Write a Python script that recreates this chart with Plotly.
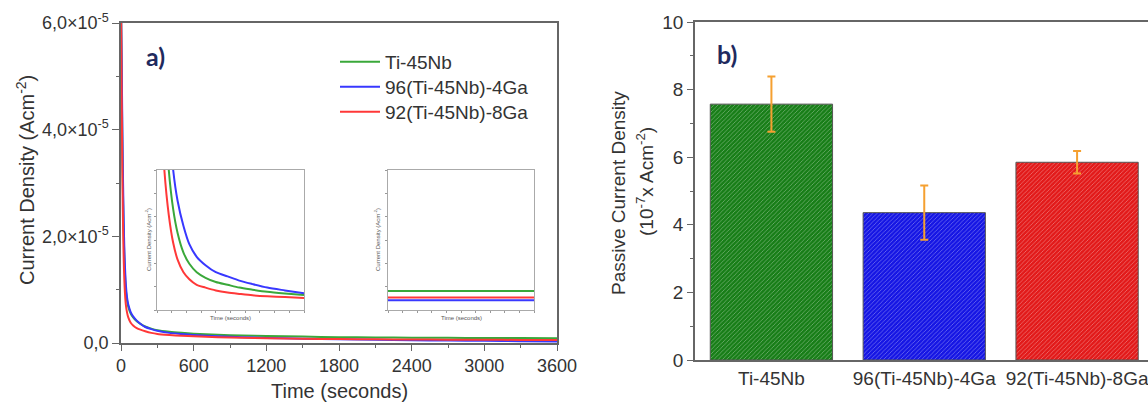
import plotly.graph_objects as go

W, H = 1148, 403

def px(x):
    return x / W

def py(y):
    return 1 - y / H

# ---------------- data: panel a) (current density in units of 1e-5 A cm^-2)
series_names = ["Ti-45Nb", "96(Ti-45Nb)-4Ga", "92(Ti-45Nb)-8Ga"]
line_colors = ["#3aa83a", "#3838ff", "#ff3838"]

time_s = [0, 5, 10, 15, 20, 25, 30, 40, 50, 60, 80, 100, 130, 160, 200, 250, 300,
          400, 500, 600, 800, 1000, 1200, 1500, 1800, 2100, 2400, 2700, 3000, 3300, 3600]
green_cd = [6.4, 5.2, 4.0, 3.0, 2.3, 1.8, 1.45, 1.0, 0.80, 0.68, 0.55, 0.48, 0.41, 0.36, 0.31, 0.27, 0.24,
            0.21, 0.19, 0.175, 0.155, 0.14, 0.13, 0.12, 0.11, 0.105, 0.10, 0.097, 0.094, 0.092, 0.09]
blue_cd = [6.4, 5.4, 4.3, 3.3, 2.6, 2.0, 1.6, 1.1, 0.85, 0.72, 0.58, 0.50, 0.42, 0.36, 0.30, 0.26, 0.23,
           0.19, 0.17, 0.15, 0.125, 0.11, 0.095, 0.08, 0.07, 0.06, 0.052, 0.045, 0.04, 0.035, 0.03]
red_cd = [6.4, 4.8, 3.5, 2.5, 1.8, 1.35, 1.05, 0.72, 0.57, 0.48, 0.38, 0.33, 0.28, 0.25, 0.22, 0.19, 0.17,
          0.15, 0.135, 0.125, 0.11, 0.10, 0.09, 0.08, 0.075, 0.07, 0.065, 0.062, 0.06, 0.058, 0.055]

y_tick_vals = [0, 2, 4, 6]
y_tick_text = ["0,0", "2,0×10<sup>-5</sup>", "4,0×10<sup>-5</sup>", "6,0×10<sup>-5</sup>"]
x_tick_vals = [0, 600, 1200, 1800, 2400, 3000, 3600]

# inset 1 (zoom of early decay, arbitrary units)
inset1_x = [0.02, 0.05, 0.08, 0.11, 0.14, 0.18, 0.22, 0.27, 0.33, 0.40, 0.48, 0.56, 0.65, 0.75, 0.87, 1.0]
inset1_green = [2.2, 1.5, 1.0, 0.72, 0.55, 0.41, 0.33, 0.27, 0.23, 0.20, 0.18, 0.16, 0.145, 0.13, 0.118, 0.107]
inset1_blue = [3.0, 2.0, 1.4, 1.0, 0.78, 0.60, 0.47, 0.38, 0.32, 0.27, 0.24, 0.21, 0.185, 0.16, 0.14, 0.12]
inset1_red = [1.6, 1.0, 0.68, 0.48, 0.36, 0.27, 0.22, 0.18, 0.16, 0.14, 0.125, 0.115, 0.105, 0.098, 0.092, 0.086]

# inset 2 (steady state, arbitrary units)
inset2_x = [0.0, 1.0]
inset2_green = [0.135, 0.135]
inset2_blue = [0.07, 0.07]
inset2_red = [0.09, 0.09]

# ---------------- data: panel b)
categories = ["Ti-45Nb", "96(Ti-45Nb)-4Ga", "92(Ti-45Nb)-8Ga"]
passive_cd = [7.57, 4.36, 5.85]
passive_err = [0.82, 0.80, 0.33]
bar_colors = ["#187e18", "#1616e4", "#e21a1a"]
bar_pattern_colors = ["#106c10", "#1010c4", "#c41212"]

fig = go.Figure()

legend_ids = ["legend", "legend2", "legend3"]
main_series = [green_cd, blue_cd, red_cd]
for name, col, ys, lg in zip(series_names, line_colors, main_series, legend_ids):
    fig.add_trace(go.Scatter(x=time_s, y=ys, mode="lines", name=name, legend=lg,
                             line=dict(color=col, width=2, shape="spline", smoothing=0.6),
                             xaxis="x", yaxis="y"))

for col, ys in zip(line_colors, [inset1_green, inset1_blue, inset1_red]):
    fig.add_trace(go.Scatter(x=inset1_x, y=ys, mode="lines", showlegend=False,
                             line=dict(color=col, width=2, shape="spline", smoothing=0.8),
                             xaxis="x2", yaxis="y2", hoverinfo="skip"))

for col, ys in zip(line_colors, [inset2_green, inset2_blue, inset2_red]):
    fig.add_trace(go.Scatter(x=inset2_x, y=ys, mode="lines", showlegend=False,
                             line=dict(color=col, width=2),
                             xaxis="x3", yaxis="y3", hoverinfo="skip"))

fig.add_trace(go.Bar(x=categories, y=passive_cd, width=0.8, showlegend=False,
                     marker=dict(color=bar_colors, line=dict(color="#555555", width=1),
                                 pattern=dict(shape="/", size=3, solidity=0.2,
                                              fgcolor=bar_pattern_colors)),
                     error_y=dict(type="data", array=passive_err, visible=True,
                                  color="#f5a030", thickness=2, width=4),
                     xaxis="x4", yaxis="y4"))

FAM = "Liberation Sans, Arial, sans-serif"
tick_font_a = dict(family=FAM, size=18, color="#333333")
tick_font_b = dict(family=FAM, size=19, color="#333333")
frame_col = "#666666"

legend_common = dict(x=px(335), xanchor="left", yanchor="middle",
                     bgcolor="rgba(0,0,0,0)", font=dict(family=FAM, size=19, color="#333333"),
                     itemwidth=40)

fig.update_layout(
    width=W, height=H,
    margin=dict(l=0, r=0, t=0, b=0, pad=0, autoexpand=False),
    paper_bgcolor="white", plot_bgcolor="white",
    font=dict(family=FAM, size=15, color="#333333"),
    showlegend=True,
    legend=dict(y=py(62), **legend_common),
    legend2=dict(y=py(87), **legend_common),
    legend3=dict(y=py(112), **legend_common),
    xaxis=dict(domain=[px(121), px(557)], range=[0, 3600], tickmode="array",
               tickvals=x_tick_vals, ticks="outside", ticklen=6, tickcolor=frame_col,
               showline=True, linecolor=frame_col, linewidth=1.5, mirror=True,
               showgrid=False, zeroline=False, anchor="y", tickfont=tick_font_a,
               minor=dict(dtick=300, ticks="outside", ticklen=3, tickcolor=frame_col)),
    yaxis=dict(domain=[py(343), py(23)], range=[0, 6], tickmode="array",
               tickvals=y_tick_vals, ticktext=y_tick_text, ticks="outside", ticklen=7,
               tickcolor=frame_col, showline=True, linecolor=frame_col, linewidth=1.5,
               mirror=True, showgrid=False, zeroline=False, anchor="x", tickfont=tick_font_a,
               minor=dict(dtick=1, ticks="outside", ticklen=3, tickcolor=frame_col)),
    xaxis2=dict(domain=[px(157), px(304)], range=[0, 1], showticklabels=False,
                ticks="outside", ticklen=2, tickcolor="#999", dtick=0.1,
                showline=True, linecolor="#aaaaaa", linewidth=1, mirror=True,
                showgrid=False, zeroline=False, anchor="y2"),
    yaxis2=dict(domain=[py(310), py(170)], range=[0, 1], showticklabels=False,
                ticks="outside", ticklen=2, tickcolor="#999", dtick=1/6,
                showline=True, linecolor="#aaaaaa", linewidth=1, mirror=True,
                showgrid=False, zeroline=False, anchor="x2"),
    xaxis3=dict(domain=[px(388), px(534)], range=[0, 1], showticklabels=False,
                ticks="outside", ticklen=2, tickcolor="#999", dtick=0.1,
                showline=True, linecolor="#aaaaaa", linewidth=1, mirror=True,
                showgrid=False, zeroline=False, anchor="y3"),
    yaxis3=dict(domain=[py(310), py(170)], range=[0, 1], showticklabels=False,
                ticks="outside", ticklen=2, tickcolor="#999", dtick=1/6,
                showline=True, linecolor="#aaaaaa", linewidth=1, mirror=True,
                showgrid=False, zeroline=False, anchor="x3"),
    xaxis4=dict(domain=[px(695), 1.0], range=[-0.5, 2.464], ticks="",
                showline=True, linecolor=frame_col, linewidth=1.5, mirror=True,
                showgrid=False, zeroline=False, anchor="y4", tickfont=tick_font_b),
    yaxis4=dict(domain=[py(360), py(22)], range=[0, 10], dtick=2, ticks="outside",
                ticklen=6, tickcolor=frame_col, showline=True, linecolor=frame_col,
                linewidth=1.5, showgrid=False, zeroline=False, anchor="x4",
                tickfont=tick_font_b,
                minor=dict(dtick=1, ticks="outside", ticklen=3, tickcolor=frame_col)),
)

title_font = dict(family=FAM, size=20, color="#333333")
label_font = dict(family="Lato, Open Sans, sans-serif", size=25, color="#1f2a5e")
tiny_font = dict(family=FAM, size=6, color="#555555")
rtitle_font = dict(family=FAM, size=19, color="#333333")

annotations = [
    dict(text="Current Density (Acm<sup>-2</sup>)", x=px(25), y=py(180), textangle=-90,
         font=title_font),
    dict(text="Time (seconds)", x=px(339), y=py(391), font=title_font),
    dict(text="<b>a)</b>", x=px(155), y=py(56), font=label_font),
    dict(text="<b>b)</b>", x=px(727), y=py(54), font=label_font),
    dict(text="Passive Current Density", x=px(618), y=py(193), textangle=-90, font=rtitle_font),
    dict(text="(10<sup>-7</sup>x Acm<sup>-2</sup>)", x=px(645), y=py(182), textangle=-90, font=rtitle_font),
    dict(text="Current Density (Acm<sup>-2</sup>)", x=px(148), y=py(240), textangle=-90, font=tiny_font),
    dict(text="Time (seconds)", x=px(230), y=py(318), font=tiny_font),
    dict(text="Current Density (Acm<sup>-2</sup>)", x=px(377), y=py(240), textangle=-90, font=tiny_font),
    dict(text="Time (seconds)", x=px(461), y=py(318), font=tiny_font),
]
for a in annotations:
    a.update(xref="paper", yref="paper", showarrow=False, xanchor="center", yanchor="middle")
fig.update_layout(annotations=annotations)

fig.write_html("out.html")
